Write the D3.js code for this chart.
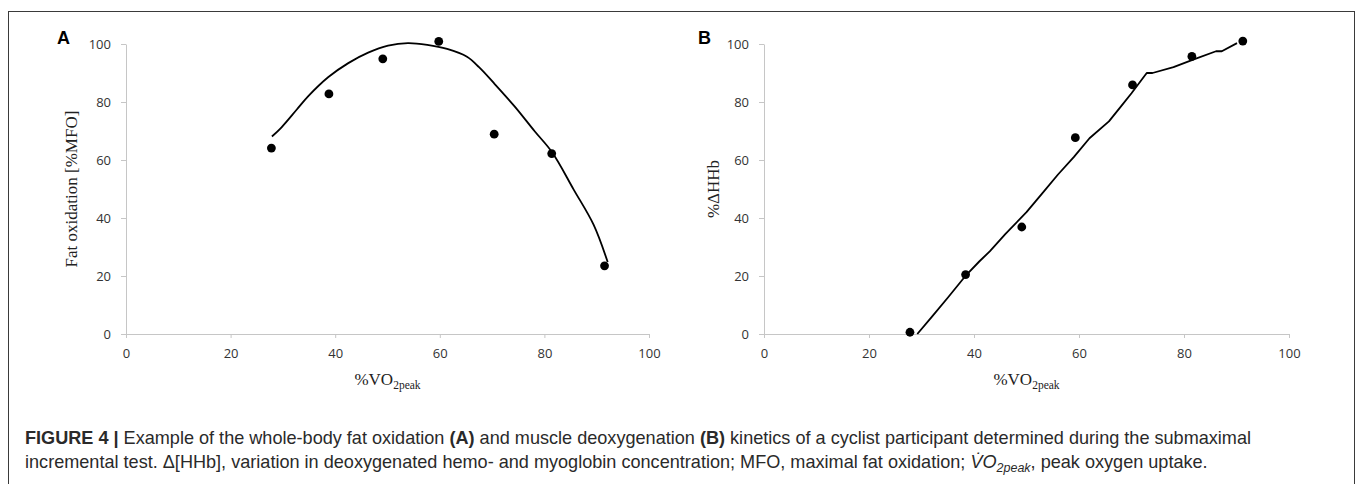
<!DOCTYPE html>
<html>
<head>
<meta charset="utf-8">
<script src="https://cdn.jsdelivr.net/npm/d3@7"></script>
<style>
  body { margin: 0; background: #fff; }
  .tick text { font-family: "Open Sans", "DejaVu Sans", sans-serif; font-size: 13px; fill: #333; }
  .tick line, .domain { stroke: #c6c6c6; }
  .title { font-family: "Liberation Serif", "DejaVu Serif", serif; font-size: 17px; fill: #222; }
  .cap { font-family: "Liberation Sans", Arial, sans-serif; font-size: 18.1px; fill: #2a2a2a; }
</style>
</head>
<body>
<svg id="fig" width="1357" height="484"></svg>
<script>
"use strict";

// ticks shared by both panels
var xTicks = [0, 20, 40, 60, 80, 100],
    yTicks = [0, 20, 40, 60, 80, 100];

// panel A: fat oxidation, measured points
var fatX = [27.8, 38.8, 49.1, 59.8, 70.4, 81.4, 91.5],
    fatY = [64.1, 82.8, 94.9, 100.9, 68.9, 62.2, 23.5];
// panel A: trend line
var fatLineX = [27.9, 29.7, 32.7, 34.9, 38.7, 42.5, 46.3, 50.1, 53.9, 57.6, 61.4, 65.2, 67.5, 70.5, 74.3, 78.1, 81.5, 85.6, 89.4, 92.1],
    fatLineY = [68.1, 71.2, 77.5, 82.1, 88.6, 93.4, 97.0, 99.4, 100.3, 99.7, 98.3, 95.6, 92.0, 86.2, 78.5, 70.0, 62.6, 49.8, 37.7, 24.8];

// panel B: deoxygenation, measured points
var hhbX = [27.8, 38.4, 49.1, 59.3, 70.2, 81.5, 91.2],
    hhbY = [0.6, 20.5, 36.9, 67.7, 85.9, 95.7, 101.0];
// panel B: fitted line
var hhbLineX = [29.2, 32, 35, 38.6, 41, 43, 46, 50, 53, 56, 59, 62, 65.7, 68, 70, 72.9, 74.0, 78, 82, 86.1, 87.2, 90.1],
    hhbLineY = [0, 6, 12.5, 20.5, 25, 28.5, 34.5, 42, 48.5, 55, 61, 67.5, 73.3, 78.5, 83, 90, 90, 92, 94.8, 97.5, 97.5, 100.3];

var svg = d3.select("#fig");

// frame around the figure
svg.append("rect")
  .attr("x", 8.5).attr("y", 11.5)
  .attr("width", 1346).attr("height", 520)
  .attr("fill", "none").attr("stroke", "#3a3a3a").attr("stroke-width", 1);

var DrawPanel = (function(p) {
  var x = d3.scaleLinear().domain([0, 100]).range([p.left, p.right]),
      y = d3.scaleLinear().domain([0, 100]).range([334, 44]);

  var g = svg.append("g");

  g.append("g")
    .attr("transform", "translate(0,334)")
    .call(d3.axisBottom(x).tickValues(xTicks).tickSize(4).tickSizeOuter(0).tickPadding(11))
    .call(a => a.selectAll(".tick text").attr("dy", "0.71em"));

  g.append("g")
    .attr("transform", "translate(" + p.left + ",0)")
    .call(d3.axisLeft(y).tickValues(yTicks).tickSize(5).tickSizeOuter(0).tickPadding(10));

  // curve first, dots on top
  var line = d3.line()
    .x((d, i) => x(p.lx[i]))
    .y(d => y(d))
    .curve(p.curve);

  g.append("path")
    .datum(p.ly)
    .attr("d", line)
    .attr("fill", "none")
    .attr("stroke", "#000")
    .attr("stroke-width", 1.8)
    .attr("stroke-linejoin", "round");

  g.selectAll("circle").data(p.py)
    .enter().append("circle")
    .attr("cx", (d, i) => x(p.px[i]))
    .attr("cy", d => y(d))
    .attr("r", 4.4)
    .attr("fill", "#000");

  // panel letter
  g.append("text")
    .attr("x", p.letterX).attr("y", 44)
    .attr("font-family", "Liberation Sans, Arial, sans-serif")
    .attr("font-weight", "bold").attr("font-size", 18)
    .text(p.letter);

  // x title with subscript
  var xt = g.append("text")
    .attr("class", "title")
    .attr("x", (p.left + p.right) / 2).attr("y", 385)
    .attr("text-anchor", "middle");
  xt.append("tspan").text("%VO");
  xt.append("tspan").attr("font-size", 11.5).attr("dy", 4).text("2peak");

  // y title
  g.append("text")
    .attr("class", "title")
    .attr("transform", "translate(" + p.ytX + ",189) rotate(-90)")
    .attr("text-anchor", "middle")
    .text(p.ytitle);
});

DrawPanel({ left: 126, right: 649, letter: "A", letterX: 57, ytX: 77,
  ytitle: "Fat oxidation [%MFO]",
  px: fatX, py: fatY, lx: fatLineX, ly: fatLineY, curve: d3.curveCatmullRom });

DrawPanel({ left: 764, right: 1289, letter: "B", letterX: 698, ytX: 719,
  ytitle: "%\u0394HHb",
  px: hhbX, py: hhbY, lx: hhbLineX, ly: hhbLineY, curve: d3.curveLinear });

// caption
var c1 = svg.append("text").attr("class", "cap").attr("x", 25).attr("y", 444);
c1.append("tspan").attr("font-weight", "bold").text("FIGURE 4 | ");
c1.append("tspan").text("Example of the whole-body fat oxidation ");
c1.append("tspan").attr("font-weight", "bold").text("(A)");
c1.append("tspan").text(" and muscle deoxygenation ");
c1.append("tspan").attr("font-weight", "bold").text("(B)");
c1.append("tspan").text(" kinetics of a cyclist participant determined during the submaximal");

var c2 = svg.append("text").attr("class", "cap").attr("x", 25).attr("y", 468);
c2.append("tspan").text("incremental test. \u0394[HHb], variation in deoxygenated hemo- and myoglobin concentration; MFO, maximal fat oxidation; ");
c2.append("tspan").attr("font-style", "italic").text("V\u0307O");
c2.append("tspan").attr("font-style", "italic").attr("font-size", 12.5).attr("dy", 4).text("2peak");
c2.append("tspan").attr("dy", -4).text(", peak oxygen uptake.");
</script>
</body>
</html>
